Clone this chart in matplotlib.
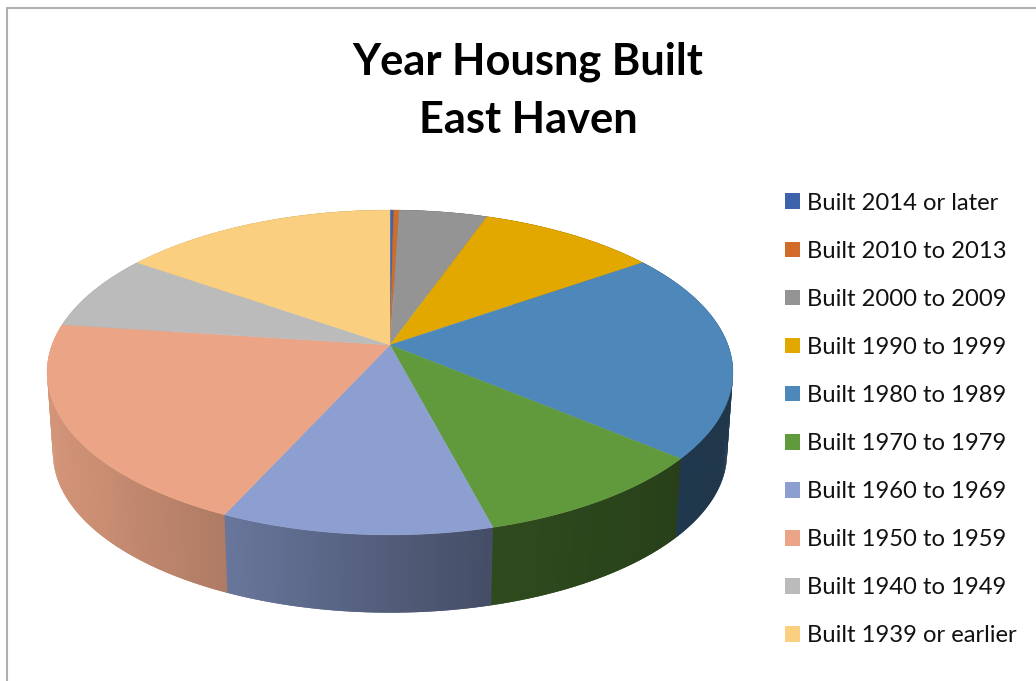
import numpy as np
import matplotlib
matplotlib.use("Agg")
import matplotlib.pyplot as plt
from matplotlib.patches import Patch

title_lines = ["Year Housng Built", "East Haven"]
labels = ["Built 2014 or later", "Built 2010 to 2013", "Built 2000 to 2009", "Built 1990 to 1999",
          "Built 1980 to 1989", "Built 1970 to 1979", "Built 1960 to 1969", "Built 1950 to 1959",
          "Built 1940 to 1949", "Built 1939 or earlier"]
shares = [0.2, 0.3, 4.9, 9.9, 20.8, 9.8, 10.9, 20.3, 7.6, 15.3]
colors = ["#3C63AC", "#D26B27", "#949494", "#E3A800", "#4E87BA",
          "#609A3D", "#8D9FD1", "#EBA586", "#BBBBBB", "#FBCF80"]

plt.rcParams['font.family'] = ['Lato', 'DejaVu Sans']

# pie projection, in pixels
CX, CY = 390, 345
A, B, K = 338, 157.8, 0.169
WALL_Y, WALL_SCALE = 426, 0.983


def project(ang):
    # angle clockwise from 12 o'clock -> point on top face
    u, v = np.sin(ang), np.cos(ang)
    d = 1 + K * v
    return CX + A * u / d, CY - B * v / d


def wall_shade(x):
    # the side gets darker from left to right
    return np.interp(x, [50, 228, 490, 700, 735], [0.90, 0.74, 0.49, 0.41, 0.40])


fig = plt.figure(figsize=(10.36, 6.81), dpi=100)
ax = fig.add_axes([0, 0, 1, 1])
ax.set_xlim(0, 1036)
ax.set_ylim(681, 0)
ax.axis('off')

edges = np.cumsum([0] + shares) / sum(shares) * 2 * np.pi

# side wall first, in thin strips; each one runs into the next so no seams show
for i, color in enumerate(colors):
    base = np.array(matplotlib.colors.to_rgb(color))
    n = max(int(shares[i] * 6), 2)
    a = np.linspace(edges[i], edges[i + 1], n + 1)
    step = a[1] - a[0]
    for a0 in a[:-1]:
        arc = np.linspace(a0, a0 + 2 * step, 3)
        x, y = project(arc)
        xb = CX + (x - CX) * WALL_SCALE
        yb = WALL_Y + (y - CY) * WALL_SCALE
        c = base * wall_shade(x[:2].mean())
        ax.fill(np.r_[x, xb[::-1]], np.r_[y, yb[::-1]], color=c, lw=0, zorder=2)

# top face
for i, color in enumerate(colors):
    a = np.linspace(edges[i], edges[i + 1], max(int(shares[i] * 6), 4))
    x, y = project(a)
    ax.fill(np.r_[CX, x], np.r_[CY, y], color=color, lw=0.3, zorder=3)

# chart frame
ax.plot([7, 7, 1036], [681, 8, 8], color="#B0B0B0", lw=1.5, zorder=1)

ax.text(528, 62, title_lines[0], ha='center', va='center', fontsize=31.2, fontweight='bold', color='black')
ax.text(528, 120, title_lines[1], ha='center', va='center', fontsize=31.2, fontweight='bold', color='black')

handles = [Patch(facecolor=c, edgecolor='none') for c in colors]
ax.legend(handles, labels, loc='center left', bbox_to_anchor=(785, 419.5), bbox_transform=ax.transData,
          frameon=False, fontsize=17.1, handlelength=0.64, handleheight=0.64, handletextpad=0.27,
          labelspacing=1.14, borderpad=0, borderaxespad=0, labelcolor='#111111')

fig.savefig("out.png", dpi=100)
